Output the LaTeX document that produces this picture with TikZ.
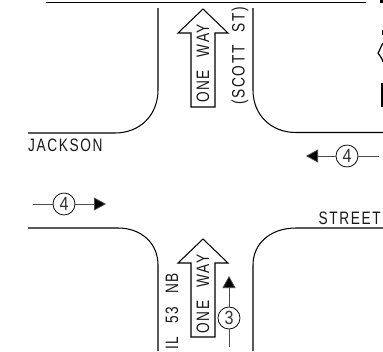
\documentclass[tikz,border=0pt]{standalone}
\usepackage{fontspec}
\setmainfont{Liberation Sans}
\newfontfamily\lblfont[LetterSpace=9,FakeStretch=0.76,WordSpace=2.4]{Liberation Sans}
\newfontfamily\numfont[FakeStretch=0.85]{Liberation Sans}
\usetikzlibrary{arrows.meta}
\tikzset{
  curb/.style={draw=black,line width=1.05pt},
  arrowsign/.style={draw=black,line width=1.05pt,fill=white,line join=miter},
  lbl/.style={font=\lblfont\fontsize{18}{18}\selectfont,text=black!90,inner sep=0pt},
  bubble/.style={circle,draw=black,line width=0.75pt,fill=white,minimum size=22pt,inner sep=0pt,font=\numfont\fontsize{19}{19}\selectfont,text=black!80},
  leadline/.style={draw=black!70,line width=0.8pt},
  lead/.style={leadline,-{Triangle[length=12pt,width=13pt,fill=black]}}
}
\begin{document}
\begin{tikzpicture}[x=1pt,y=-1pt]
\useasboundingbox (0,0) rectangle (383,351);
\fill[white] (0,0) rectangle (383,351);
% top edge
\draw[curb] (46,2.5) -- (366,2.5);
% curbs
\draw[curb] (158,8) -- (158,90) .. controls (158,115) and (140,133) .. (115,133) -- (28,133);
\draw[curb] (253,8) -- (253,90) .. controls (253,115) and (271,132.5) .. (296,132.5) -- (383,132.5);
\draw[curb] (28,228) -- (118,228) .. controls (141,228) and (158,243) .. (158,265) -- (158,351);
\draw[curb] (383,228) -- (296,228) .. controls (271,228) and (253,243) .. (253,265) -- (253,351);
% one way arrows
\draw[arrowsign] (203,9) -- (228,33) -- (215,33) -- (215,107) -- (191,107) -- (191,33) -- (178,33) -- cycle;
\draw[arrowsign] (203,239) -- (228,263) -- (215,263) -- (215,337) -- (191,337) -- (191,263) -- (178,263) -- cycle;
\node[lbl,rotate=90] (w1) at (203,63.5) {ONE WAY};
\node[lbl,rotate=90] (w2) at (203,294) {ONE WAY};
% street labels
\node[lbl,rotate=90] (scott) at (240,56) {(SCOTT ST)};
\node[lbl,rotate=90,anchor=east] (il) at (172,273) {IL 53 NB};
\node[lbl,anchor=west] (jackson) at (28,145.5) {JACKSON};
\node[lbl,anchor=east] (street) at (381,218) {STREET};
% bubbles
\node[bubble] (b4r) at (347,156) {4};
\coordinate (b4rend) at (379,156);
\coordinate (b4rtip) at (306,156);
\draw[leadline] (b4rend) -- (b4r);
\draw[lead] (b4r) -- (b4rtip);
\node[bubble] (b4l) at (64,204) {4};
\coordinate (b4lend) at (33,204);
\coordinate (b4ltip) at (106,204);
\draw[leadline] (b4lend) -- (b4l);
\draw[lead] (b4l) -- (b4ltip);
\node[bubble] (b3) at (229,318) {3};
\coordinate (b3end) at (229,347);
\coordinate (b3tip) at (229,276);
\draw[leadline] (b3end) -- (b3);
\draw[lead] (b3) -- (b3tip);
% fragments at right edge
\draw[black,line width=1.2pt] (383,43) .. controls (381,46) and (380,50) .. (378,53) .. controls (380,56) and (382,58) .. (383,62);
\fill[black] (381,83) rectangle (383,107);
\fill[black] (382,30) rectangle (383,35);
\fill[black] (380,0) rectangle (383,3);
\end{tikzpicture}
\end{document}
